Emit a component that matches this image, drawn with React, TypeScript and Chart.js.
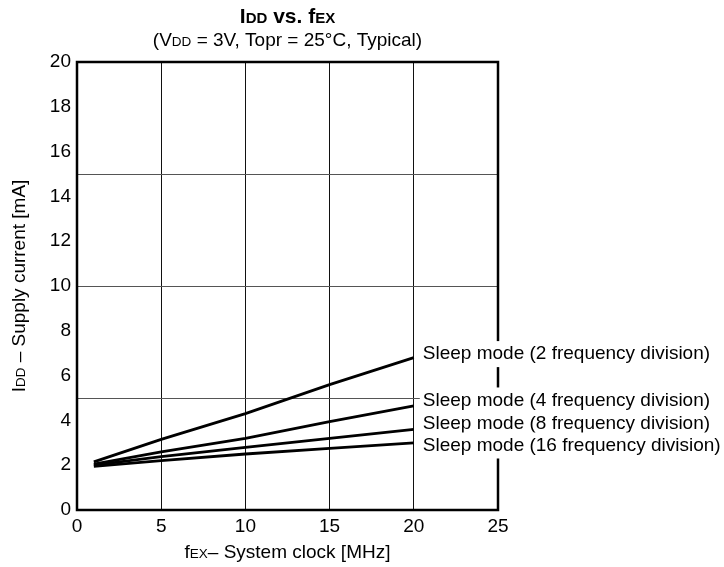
import React, { useEffect, useRef } from "react";
import { Chart, registerables } from "chart.js";

Chart.register(...registerables);

// ---- data ----
const clockMHz = [1, 5, 10, 15, 20];
const sleepDiv2 = [2.15, 3.15, 4.3, 5.6, 6.8];
const sleepDiv4 = [2.05, 2.6, 3.2, 3.95, 4.65];
const sleepDiv8 = [2.0, 2.38, 2.8, 3.2, 3.6];
const sleepDiv16 = [1.95, 2.2, 2.5, 2.75, 3.0];
const seriesLabels = [
  "Sleep mode (2 frequency division)",
  "Sleep mode (4 frequency division)",
  "Sleep mode (8 frequency division)",
  "Sleep mode (16 frequency division)",
];
const labelAnchorY = [6.96, 4.89, 3.86, 2.88];
const xTicks = [0, 5, 10, 15, 20, 25];
const yTicks = [0, 2, 4, 6, 8, 10, 12, 14, 16, 18, 20];
const yGridLines = [5, 10, 15];

const FAMILY = '"Liberation Sans", Arial, Helvetica, sans-serif';

type Run = { t: string; size: number; bold?: boolean };

function drawRuns(ctx: CanvasRenderingContext2D, runs: Run[], cx: number, baseY: number) {
  let total = 0;
  const widths: number[] = [];
  for (const r of runs) {
    ctx.font = `${r.bold ? "bold " : ""}${r.size}px ${FAMILY}`;
    const w = ctx.measureText(r.t).width;
    widths.push(w);
    total += w;
  }
  let x = cx - total / 2;
  ctx.textAlign = "left";
  ctx.textBaseline = "alphabetic";
  runs.forEach((r, i) => {
    ctx.font = `${r.bold ? "bold " : ""}${r.size}px ${FAMILY}`;
    ctx.fillText(r.t, x, baseY);
    x += widths[i];
  });
}

const decorPlugin = {
  id: "decor",
  beforeDatasetsDraw(chart: any) {
    const { ctx, chartArea } = chart;
    ctx.save();
    ctx.strokeStyle = "#000";
    ctx.lineWidth = 2.5;
    ctx.strokeRect(chartArea.left, chartArea.top, chartArea.right - chartArea.left, chartArea.bottom - chartArea.top);
    ctx.restore();
  },
  afterDatasetsDraw(chart: any) {
    const { ctx, chartArea, scales } = chart;
    ctx.save();
    // series labels
    const lx = scales.x.getPixelForValue(20) + 9;
    seriesLabels.forEach((lab, i) => {
      const cy = scales.y.getPixelForValue(labelAnchorY[i]);
      ctx.fillStyle = "#fff";
      ctx.fillRect(lx - 3, cy - 13, chart.width - (lx - 3), 26);
      ctx.fillStyle = "#000";
      ctx.font = `19px ${FAMILY}`;
      ctx.textAlign = "left";
      ctx.textBaseline = "middle";
      ctx.fillText(lab, lx, cy);
    });
    ctx.fillStyle = "#000";
    const cx = (chartArea.left + chartArea.right) / 2;
    // title
    drawRuns(ctx, [
      { t: "I", size: 21, bold: true },
      { t: "DD", size: 15, bold: true },
      { t: " vs. f", size: 21, bold: true },
      { t: "EX", size: 15, bold: true },
    ], cx, 23);
    drawRuns(ctx, [
      { t: "(V", size: 19 },
      { t: "DD", size: 13.5 },
      { t: " = 3V, Topr = 25°C, Typical)", size: 19 },
    ], cx, 46);
    // x title
    drawRuns(ctx, [
      { t: "f", size: 19 },
      { t: "EX", size: 13.5 },
      { t: "– System clock [MHz]", size: 19 },
    ], cx, 558);
    // y title
    ctx.save();
    ctx.translate(25, (chartArea.top + chartArea.bottom) / 2);
    ctx.rotate(-Math.PI / 2);
    drawRuns(ctx, [
      { t: "I", size: 19 },
      { t: "DD", size: 13.5 },
      { t: " – Supply current [mA]", size: 19 },
    ], 0, 0);
    ctx.restore();
    ctx.restore();
  },
};

export default function App() {
  const ref = useRef<HTMLCanvasElement | null>(null);
  useEffect(() => {
    if (!ref.current) return;
    const mk = (vals: number[]) => clockMHz.map((x, i) => ({ x, y: vals[i] }));
    const ds = [sleepDiv2, sleepDiv4, sleepDiv8, sleepDiv16].map((v, i) => ({
      label: seriesLabels[i],
      data: mk(v),
      borderColor: "#000",
      backgroundColor: "#000",
      borderWidth: 2.8,
      pointRadius: 0,
      tension: 0,
      fill: false,
    }));
    const chart = new Chart(ref.current, {
      type: "line",
      data: { datasets: ds },
      options: {
        responsive: false,
        animation: false,
        devicePixelRatio: 1,
        layout: { padding: { left: 0, top: 62, right: 226, bottom: 0 } },
        plugins: { legend: { display: false }, title: { display: false }, tooltip: { enabled: false } },
        scales: {
          x: {
            type: "linear",
            min: 0,
            max: 25,
            afterBuildTicks: (s: any) => { s.ticks = xTicks.map((v) => ({ value: v })); },
            afterFit: (s: any) => { s.height = 57; },
            ticks: { color: "#000", font: { family: FAMILY, size: 19 }, padding: 5, maxRotation: 0 },
            grid: { color: "#111", lineWidth: 1, drawTicks: false },
            border: { display: false },
          },
          y: {
            type: "linear",
            position: "left",
            min: 0,
            max: 20,
            afterBuildTicks: (s: any) => { s.ticks = yTicks.map((v) => ({ value: v })); },
            afterFit: (s: any) => { s.width = 77; },
            ticks: { color: "#000", font: { family: FAMILY, size: 19 }, padding: 6 },
            grid: { display: false, drawTicks: false },
            border: { display: false },
          },
          yGrid: {
            type: "linear",
            position: "left",
            min: 0,
            max: 20,
            afterBuildTicks: (s: any) => { s.ticks = yGridLines.map((v) => ({ value: v })); },
            afterFit: (s: any) => { s.width = 0; },
            ticks: { display: false },
            grid: { color: "#555", lineWidth: 1, drawTicks: false },
            border: { display: false },
          },
        },
      },
      plugins: [decorPlugin],
    } as any);
    return () => chart.destroy();
  }, []);
  return (
    <div style={{ position: "fixed", left: 0, top: 0, width: 724, height: 567, background: "#fff" }}>
      <canvas ref={ref} width={724} height={567} style={{ display: "block" }} />
    </div>
  );
}
